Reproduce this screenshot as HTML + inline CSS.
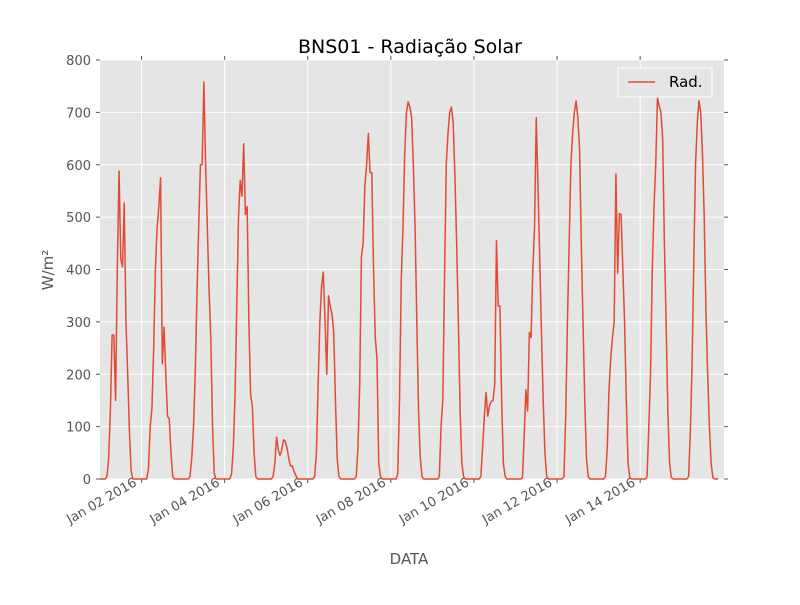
<!DOCTYPE html>
<html><head><meta charset="utf-8"><style>
body{margin:0;background:#fff;font-family:"Liberation Sans","DejaVu Sans",sans-serif}
svg text{font-family:"DejaVu Sans","Liberation Sans",sans-serif}
</style></head><body>
<svg id="chart" width="800" height="600" viewBox="0 0 800 600">
<rect x="0" y="0" width="800" height="600" fill="#fff"/>
<rect x="100" y="60" width="624" height="419" fill="#E5E5E5"/>
<g id="grid"></g><g id="ticks"></g>
<path id="series" fill="none" stroke="#E24A33" stroke-width="1.5" stroke-linejoin="round"/>
<text x="410" y="53" text-anchor="middle" font-size="19" fill="#000">BNS01 - Radiação Solar</text>
<text transform="translate(53,270) rotate(-90)" text-anchor="middle" font-size="15" fill="#555">W/m²</text>
<text x="409" y="564" text-anchor="middle" font-size="15" fill="#555">DATA</text>
<g>
<rect x="618" y="68" width="94" height="29" fill="#E5E5E5" stroke="#fff" stroke-width="1"/>
<line x1="628" y1="82" x2="655" y2="82" stroke="#E24A33" stroke-width="1.5"/>
<text x="669" y="87" font-size="15" fill="#000">Rad.</text>
</g>
</svg>
<script>
const day0=[0,0,0,0,5,40,130,275,275,150,400,588,420,405,527,300,200,90,15,0,0,0,0,0];
const day1=[0,0,0,0,20,100,135,250,400,480,520,575,220,290,200,120,115,50,5,0,0,0,0,0];
const day2=[0,0,0,0,5,40,100,200,350,480,600,600,758,600,480,360,270,100,10,0,0,0,0,0];
const day3=[0,0,0,0,10,60,160,330,500,570,540,640,505,520,300,160,140,50,5,0,0,0,0,0];
const day4=[0,0,0,0,5,30,80,55,45,55,75,72,60,40,25,25,15,8,0,0,0,0,0,0];
const day5=[0,0,0,0,5,50,180,300,370,395,300,200,350,330,315,280,150,40,5,0,0,0,0,0];
const day6=[0,0,0,0,5,60,180,425,450,560,600,660,585,585,400,270,230,30,5,0,0,0,0,0];
const day7=[0,0,0,0,10,150,380,480,620,700,720,710,690,600,480,300,130,40,5,0,0,0,0,0];
const day8=[0,0,0,0,5,100,150,380,600,660,700,710,680,580,450,300,130,30,5,0,0,0,0,0];
const day9=[0,0,0,0,5,60,120,165,120,140,148,150,180,455,330,330,150,30,5,0,0,0,0,0];
const day10=[0,0,0,0,2,80,170,130,280,270,400,480,690,560,420,280,150,50,5,0,0,0,0,0];
const day11=[0,0,0,0,5,120,300,450,600,660,700,722,690,630,450,300,150,40,5,0,0,0,0,0];
const day12=[0,0,0,0,5,60,170,230,270,300,582,393,507,505,400,300,150,30,3,0,0,0,0,0];
const day13=[0,0,0,0,5,100,200,400,520,600,728,712,700,650,450,300,130,30,3,0,0,0,0,0];
const day14=[0,0,0,0,5,90,220,420,600,680,722,700,620,500,320,200,100,30,3,0,0,0];
const values=[].concat(day0,day1,day2,day3,day4,day5,day6,day7,day8,day9,day10,day11,day12,day13,day14);
const yTicks=[0,100,200,300,400,500,600,700,800];
const xTickDays=[1,3,5,7,9,11,13];
const xTickLabels=["Jan 02 2016","Jan 04 2016","Jan 06 2016","Jan 08 2016","Jan 10 2016","Jan 12 2016","Jan 14 2016"];

const NS="http://www.w3.org/2000/svg";
const xS=h=>100+h/24*41.55;
const yS=v=>479-v*419/800;
const grid=document.getElementById('grid'), ticks=document.getElementById('ticks');
function mk(tag,attrs,parent){const e=document.createElementNS(NS,tag);for(const k in attrs)e.setAttribute(k,attrs[k]);parent.appendChild(e);return e;}
yTicks.forEach(v=>{
  const y=yS(v);
  const g=mk('line',{x1:100,x2:724,y1:y,y2:y,stroke:'#fff','stroke-width':1},grid);
  
  
  mk('line',{x1:96,x2:100,y1:y,y2:y,stroke:'#555'},ticks);
  mk('line',{x1:724,x2:728,y1:y,y2:y,stroke:'#555'},ticks);
  const t=mk('text',{x:91,y:y+5,'text-anchor':'end','font-size':13,fill:'#555'},ticks);
  
  
  t.textContent=v;
});
xTickDays.forEach((d,i)=>{
  const x=xS(d*24);
  const g=mk('line',{x1:x,x2:x,y1:60,y2:479,stroke:'#fff','stroke-width':1},grid);
  
  
  mk('line',{x1:x,x2:x,y1:479,y2:483,stroke:'#555'},ticks);
  mk('line',{x1:x,x2:x,y1:56,y2:60,stroke:'#555'},ticks);
  const t=mk('text',{transform:`translate(${x-4},${485}) rotate(-30)`,'text-anchor':'end','font-size':13,fill:'#555'},ticks);
  
  
  t.textContent=xTickLabels[i];
});
let d='';
values.forEach((v,i)=>{d+=(i?'L':'M')+xS(i).toFixed(2)+','+yS(v).toFixed(2);});
document.getElementById('series').setAttribute('d',d);
</script>
</body></html>
